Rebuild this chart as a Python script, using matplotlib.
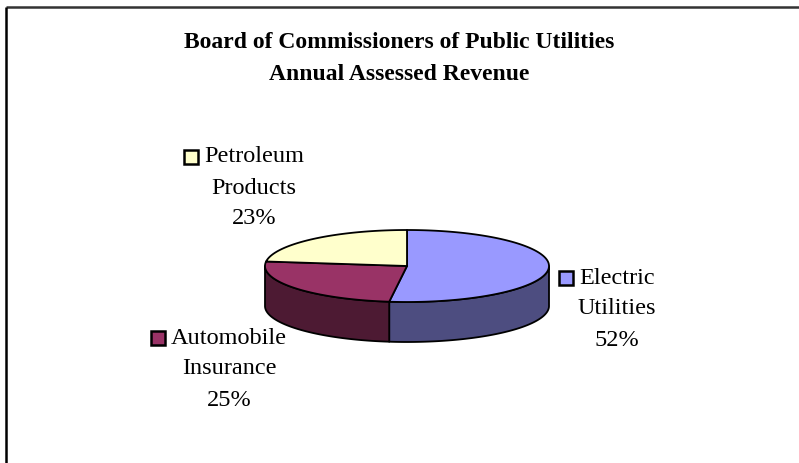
import matplotlib
matplotlib.use("Agg")
import matplotlib.pyplot as plt
from matplotlib.patches import Polygon, Rectangle
import numpy as np

# data
categories = ["Electric\nUtilities", "Automobile\nInsurance", "Petroleum\nProducts"]
shares = [52, 25, 23]
top_colors = ["#9999ff", "#993366", "#ffffcc"]
side_colors = ["#4d4d80", "#4d1a33", "#80806a"]
label_pos = [(617, 278), (229, 338), (254, 157)]  # centre of first text line

title_lines = ["Board of Commissioners of Public Utilities", "Annual Assessed Revenue"]

W, H = 799, 463
fig = plt.figure(figsize=(W / 100, H / 100), dpi=100)
ax = fig.add_axes([0, 0, 1, 1])
ax.set_xlim(0, W)
ax.set_ylim(H, 0)
ax.axis("off")

# pie geometry (pixel units)
cx, cy = 407, 266
a, b = 142, 36
depth = 40
lw = 1.3


def ell(t, dy=0):
    return np.column_stack([cx + a * np.sin(t), cy - b * np.cos(t) + dy])


fr = np.array(shares, float) / sum(shares)
edges = np.concatenate([[0], np.cumsum(fr)]) * 2 * np.pi

# side walls (front half only: pi/2 .. 3pi/2)
for i in range(len(shares)):
    t0 = max(edges[i], np.pi / 2)
    t1 = min(edges[i + 1], 3 * np.pi / 2)
    if t1 <= t0:
        continue
    t = np.linspace(t0, t1, 100)
    pts = np.vstack([ell(t), ell(t[::-1], depth)])
    ax.add_patch(Polygon(pts, closed=True, fc=side_colors[i], ec="black",
                         lw=lw, joinstyle="round", zorder=2))

# top faces
for i in range(len(shares)):
    t = np.linspace(edges[i], edges[i + 1], 200)
    pts = np.vstack([[cx, cy], ell(t)])
    ax.add_patch(Polygon(pts, closed=True, fc=top_colors[i], ec="black",
                         lw=lw, joinstyle="round", zorder=3))

# title
for k, s in enumerate(title_lines):
    ax.text(W / 2, 43 + k * 31, s, ha="center", va="center", fontsize=17,
            fontweight="bold", family="Liberation Serif")

# labels with legend key
fig.canvas.draw()
rend = fig.canvas.get_renderer()
inv = ax.transData.inverted()
line_h = 31
for i, cat in enumerate(categories):
    x, y = label_pos[i]
    lines = cat.split("\n") + ["%d%%" % shares[i]]
    txts = []
    for k, s in enumerate(lines):
        txts.append(ax.text(x, y + k * line_h, s, ha="center", va="center",
                            fontsize=17.5, family="Liberation Serif"))
    bb = txts[0].get_window_extent(rend)
    x0 = inv.transform((bb.x0, bb.y0))[0]
    ax.add_patch(Rectangle((x0 - 20, y - 7), 14, 14, fc=top_colors[i],
                           ec="black", lw=1.8, zorder=4))

# chart frame (top and left edges visible)
ax.plot([6, W], [7, 7], color="#333333", lw=1.8, solid_capstyle="butt")
ax.plot([6, 6], [7, H], color="black", lw=1.8, solid_capstyle="butt")

fig.savefig("out.png", dpi=100)
